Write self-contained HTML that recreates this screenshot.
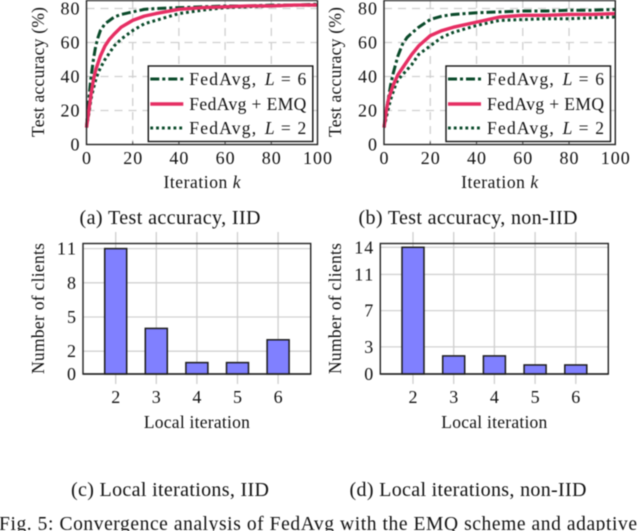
<!DOCTYPE html>
<html lang="en">
<head>
<meta charset="utf-8">
<title>Convergence analysis of FedAvg</title>
<style>
html,body{margin:0;padding:0;background:#fff;width:640px;height:531px;overflow:hidden}
svg{display:block;filter:blur(0.4px)}
text{font-family:"Liberation Serif",serif;fill:#111}
</style>
</head>
<body>
<svg id="fig" xmlns="http://www.w3.org/2000/svg" width="640" height="531" viewBox="0 0 640 531"></svg>
<script>
const iterations = [0,1,2,3,4,5,6,8,10,12,15,20,25,30,40,50,60,70,80,90,100];
const iidL6 = [10,27,40,50,58,63,67,71,73,75,76.5,78,79.5,80,80.5,81,81.5,81.5,82,82,82.5];
const iidEmq = [10,20,30,38,44,48,52,58,62,65,69,73,75.5,77,79.5,80.5,81,81.5,81.5,82,82];
const iidL2 = [10,18,27,33,38,42,45,50,54,58,62,67,71,73,77,79,80.5,81,81.5,82,82];
const nonIidL6 = [10,20,28,36,42,47,52,59,63,65.5,69,73.5,75.5,76.5,77.5,78,78.5,78.5,79,79,79.5];
const nonIidEmq = [10,20,27,31,35,38,41,45,49,53,58,64,67,69,72,75,76,76,76.5,76.5,77];
const nonIidL2 = [10,16,22,27,31,35,38,41,44,47,53,58,63,66,70,73,73.5,74,74,74.5,75];
const accuracyXTicks = [0,20,40,60,80,100];
const accuracyYTicks = [0,20,40,60,80];
const localIterations = [2,3,4,5,6];
const iidClients = [11,4,1,1,3];
const nonIidClients = [14,2,2,1,1];
const iidYTicks = [0,2,5,8,11];
const nonIidYTicks = [0,3,7,11,14];
const legendLabels = ["FedAvg, ","FedAvg + EMQ","FedAvg, "];
const legendLValues = [6,null,2];

const NS = "http://www.w3.org/2000/svg";
const root = document.getElementById("fig");
const GREEN = "#0a4a2a", PINK = "#e62e63", INK = "#222";
const DASH_DOT = "9 3 3 3", DOTTED = "2.8 3";

function mk(tag, attrs, parent, name) {
  const el = document.createElementNS(NS, tag);
  for (const k in attrs) el.setAttribute(k, attrs[k]);
  
  
  (parent || root).appendChild(el);
  return el;
}
function label(parent, name, str, x, y, size, anchor, width, rotate) {
  const a = {x:x, y:y, "font-size":size, "text-anchor":anchor || "middle"};
  if (width) { a.textLength = width; a.lengthAdjust = "spacing"; }
  if (rotate) a.transform = "rotate(-90 " + x + " " + y + ")";
  const t = mk("text", a, parent, name);
  t.textContent = str;
  return t;
}

function accuracyChart(opts) {
  const g = mk("g", {}, root, opts.name);
  const sx = v => opts.x0 + (v / 100) * (opts.x1 - opts.x0);
  const sy = v => 144.5 - v * 1.7;
  accuracyXTicks.forEach(v => {
    if (v > 0 && v < 100) mk("line", {x1:sx(v), x2:sx(v), y1:0, y2:144.5, stroke:"#cfcfcf", "stroke-width":1.3, "stroke-dasharray":"8 6"}, g, "x-gridline-" + v);
    mk("line", {x1:sx(v), x2:sx(v), y1:144.5, y2:141.5, stroke:"#555", "stroke-width":1}, g, "x-tick-" + v);
    label(g, "x-tick-label-" + v, String(v), sx(v), 164, 18, "middle", v === 100 ? 29 : (v === 0 ? null : 19));
  });
  accuracyYTicks.forEach(v => {
    if (v > 0) mk("line", {x1:opts.x0, x2:opts.x1, y1:sy(v), y2:sy(v), stroke:"#cfcfcf", "stroke-width":1.3, "stroke-dasharray":"8 6"}, g, "y-gridline-" + v);
    label(g, "y-tick-label-" + v, String(v), opts.x0 - 7, sy(v) + 6, 18, "end", v === 0 ? null : 19);
  });
  const series = [
    {name:"series-fedavg-l2", vals:opts.l2, color:GREEN, dash:DOTTED, w:3},
    {name:"series-fedavg-l6", vals:opts.l6, color:GREEN, dash:DASH_DOT, w:3},
    {name:"series-fedavg-emq", vals:opts.emq, color:PINK, dash:"", w:3.4}
  ];
  series.forEach(s => {
    const d = s.vals.map((v, i) => (i ? "L" : "M") + sx(iterations[i]).toFixed(2) + " " + sy(v).toFixed(2)).join(" ");
    const a = {d:d, fill:"none", stroke:s.color, "stroke-width":s.w, "stroke-linejoin":"round"};
    if (s.dash) a["stroke-dasharray"] = s.dash;
    mk("path", a, g, s.name);
  });
  mk("rect", {x:opts.x0, y:0.5, width:opts.x1 - opts.x0, height:144, fill:"none", stroke:INK, "stroke-width":1.4}, g, "plot-frame");

  const leg = mk("g", {}, g, "legend");
  const lx = opts.legendX;
  mk("rect", {x:lx, y:66, width:164.5, height:75.5, fill:"#fff", stroke:"#111", "stroke-width":1.4}, leg, "legend-box");
  const rows = [79, 104, 128];
  const styles = [[GREEN, DASH_DOT, 3], [PINK, "", 3.4], [GREEN, DOTTED, 3]];
  rows.forEach((ry, i) => {
    const a = {x1:lx + 2, x2:lx + 35, y1:ry, y2:ry, stroke:styles[i][0], "stroke-width":styles[i][2]};
    if (styles[i][1]) a["stroke-dasharray"] = styles[i][1];
    mk("line", a, leg, "legend-line-" + (i + 1));
    const t = label(leg, "legend-label-" + (i + 1), legendLabels[i], lx + 41, ry + 6, 17.5, "start", null);
    if (legendLValues[i] !== null) {
      const it = mk("tspan", {"font-style":"italic", dx:"2"}, t, "legend-l-symbol");
      it.textContent = "L";
      const rest = mk("tspan", {dx:"5"}, t, "legend-l-value");
      rest.textContent = "= " + legendLValues[i];
    }
    t.setAttribute("textLength", 117);
  });

  label(g, "y-axis-title", "Test accuracy (%)", opts.titleX, 72, 17.5, "middle", 130, true);
  const xt = label(g, "x-axis-title", "Iteration ", (opts.x0 + opts.x1) / 2, 188, 17.5, "middle", null);
  const k = mk("tspan", {"font-style":"italic"}, xt, "x-axis-symbol-k");
  k.textContent = "k";
  xt.setAttribute("textLength", 77);
  label(g, "caption", opts.caption, opts.captionX, 224, 20, "middle", opts.captionW);
}

function barChart(opts) {
  const g = mk("g", {}, root, opts.name);
  const sx = v => opts.first + (v - localIterations[0]) * opts.step;
  const sy = v => 374 - v * opts.unit;
  opts.yTicks.forEach(v => {
    if (v > 0) mk("line", {x1:opts.x0, x2:opts.x1, y1:sy(v), y2:sy(v), stroke:"#d2d2d2", "stroke-width":1.3}, g, "y-gridline-" + v);
    label(g, "y-tick-label-" + v, String(v), opts.x0 - 7, sy(v) + 6, 18, "end", v >= 10 ? 19 : null);
  });
  localIterations.forEach(v => {
    mk("line", {x1:sx(v), x2:sx(v), y1:232, y2:384, stroke:"#cfcfcf", "stroke-width":1.3}, g, "x-gridline-" + v);
    label(g, "x-tick-label-" + v, String(v), sx(v), 403, 18, "middle");
  });
  mk("rect", {x:opts.x0, y:243.5, width:opts.x1 - opts.x0, height:130.5, fill:"none", stroke:INK, "stroke-width":1.4}, g, "plot-frame");
  opts.vals.forEach((v, i) => {
    const c = sx(localIterations[i]);
    mk("rect", {x:c - 11, y:sy(v), width:22, height:374 - sy(v), fill:"#8080ff", stroke:"#1c1c1c", "stroke-width":1.5}, g, "bar-" + localIterations[i]);
  });
  mk("line", {x1:opts.x0, x2:opts.x1, y1:374, y2:374, stroke:INK, "stroke-width":1.6}, g, "x-axis-line");
  label(g, "y-axis-title", "Number of clients", opts.titleX, 308.5, 17.5, "middle", 131, true);
  label(g, "x-axis-title", "Local iteration", (opts.x0 + opts.x1) / 2, 428, 17.5, "middle", 106);
  label(g, "caption", opts.caption, opts.captionX, 496, 20, "middle", opts.captionW);
}

accuracyChart({name:"chart-a-accuracy-iid", x0:86.5, x1:317.5, l6:iidL6, emq:iidEmq, l2:iidL2, legendX:148.3, titleX:44, caption:"(a) Test accuracy, IID", captionX:170, captionW:181});
accuracyChart({name:"chart-b-accuracy-non-iid", x0:384, x1:615.3, l6:nonIidL6, emq:nonIidEmq, l2:nonIidL2, legendX:446, titleX:341, caption:"(b) Test accuracy, non-IID", captionX:468, captionW:219});
barChart({name:"chart-c-local-iterations-iid", x0:83, x1:310.7, first:115.7, step:40.6, unit:11.4, vals:iidClients, yTicks:iidYTicks, titleX:44, caption:"(c) Local iterations, IID", captionX:170, captionW:198});
barChart({name:"chart-d-local-iterations-non-iid", x0:380.3, x1:608.3, first:413, step:40.7, unit:9.05, vals:nonIidClients, yTicks:nonIidYTicks, titleX:341, caption:"(d) Local iterations, non-IID", captionX:468, captionW:237});

label(root, "figure-caption", "Fig. 5: Convergence analysis of FedAvg with the EMQ scheme and adaptive", -1, 530, 19.5, "start", 638);
</script>
</body>
</html>
